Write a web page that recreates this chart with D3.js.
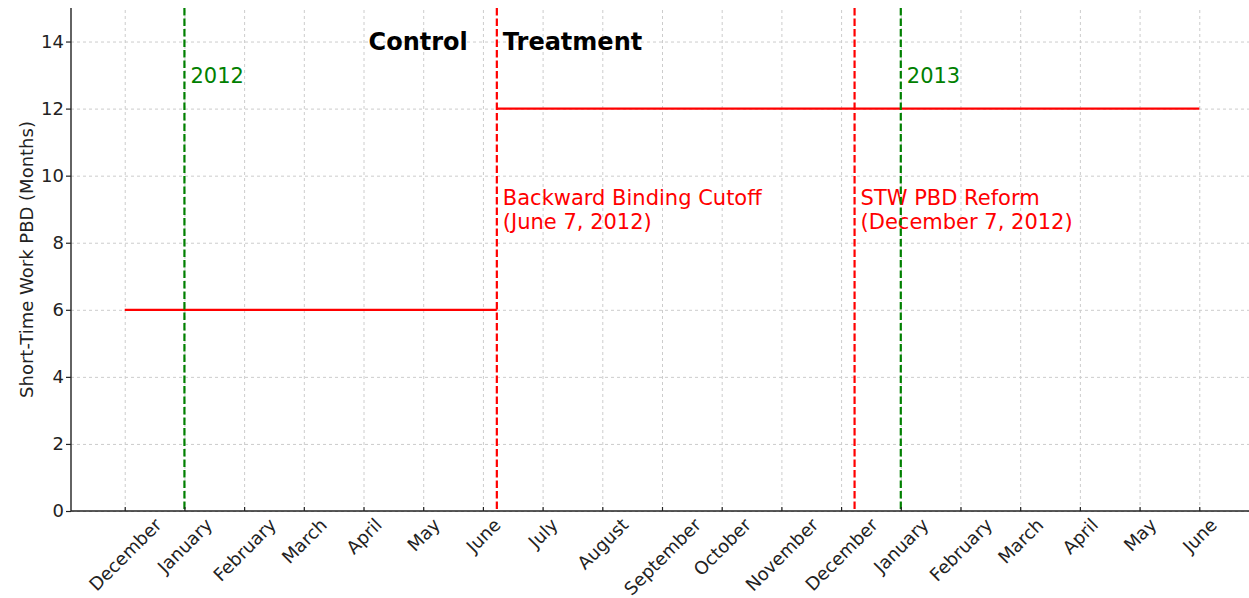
<!DOCTYPE html>
<html>
<head>
<meta charset="utf-8">
<script src="https://cdn.jsdelivr.net/npm/d3@7"></script>
<style>
  html, body { margin: 0; padding: 0; background: #fff; }
  svg { display: block; font-family: "DejaVu Sans", sans-serif; }
</style>
</head>
<body>
<div id="chart"></div>
<script>
// Short-Time Work PBD: control vs treatment periods

const MONTHS = ["December","January","February","March","April","May","June","July","August",
  "September","October","November","December","January","February","March","April","May","June"];
const Y_TICKS = [0, 2, 4, 6, 8, 10, 12, 14];

// PBD steps: [start date, end date, months]
const PBD_STEPS = [
  ["2011-12-01", "2012-06-07", 6],
  ["2012-06-07", "2013-06-01", 12],
];
// policy events (red dashed) and year starts (green dashed)
const EVENTS = [
  { date: "2012-06-07", lines: ["Backward Binding Cutoff", "(June 7, 2012)"] },
  { date: "2012-12-07", lines: ["STW PBD Reform", "(December 7, 2012)"] },
];
const YEARS = [
  { date: "2012-01-01", label: "2012" },
  { date: "2013-01-01", label: "2013" },
];

// months counted from Dec 2011, each month equally wide
function monthPos(s) {
  const [yy, mm, dd] = s.split("-").map(Number);
  const dim = new Date(yy, mm, 0).getDate();
  return (yy - 2011) * 12 + (mm - 12) + (dd === 1 ? 0 : dd / dim);
}

/* ── Layout ── */
const totalW = 1249, totalH = 598;
const margin = { top: 8, right: -4, bottom: 87, left: 71 };
const W = totalW - margin.left - margin.right;
const H = totalH - margin.top - margin.bottom;
const INK = "#222";

const svg = d3.select("#chart").append("svg")
  .attr("width", totalW).attr("height", totalH);
const g = svg.append("g").attr("transform", `translate(${margin.left},${margin.top})`);

/* ── Scales ── */
const x = d3.scaleLinear().domain([-0.9, 18.9]).range([0, W]);
const y = d3.scaleLinear().domain([0, 15]).range([H, 0]);
const monthIdx = d3.range(MONTHS.length);

/* ── Grid ── */
g.append("g").attr("transform", `translate(0,${H})`)
  .call(d3.axisBottom(x).tickValues(monthIdx).tickSize(-H).tickFormat(""))
  .call(ax => { ax.select(".domain").remove(); ax.selectAll("line").attr("stroke", "#cccccc").attr("stroke-dasharray", "3 3"); });
g.append("g")
  .call(d3.axisLeft(y).tickValues(Y_TICKS).tickSize(-W).tickFormat(""))
  .call(ax => { ax.select(".domain").remove(); ax.selectAll("line").attr("stroke", "#cccccc").attr("stroke-dasharray", "3 3"); });

/* ── Annotations ── */
YEARS.forEach(d => {
  g.append("text")
    .attr("x", x(monthPos(d.date)) + 6).attr("y", y(13))
    .attr("dy", "0.36em").attr("font-size", 21).attr("fill", "#008000")
    .text(d.label);
});

g.append("text")
  .attr("x", x(monthPos(EVENTS[0].date)) - 29).attr("y", y(14)).attr("dy", "0.36em")
  .attr("text-anchor", "end").attr("font-size", 24).attr("font-weight", "bold").attr("fill", "#000")
  .text("Control");
g.append("text")
  .attr("x", x(monthPos(EVENTS[0].date)) + 6).attr("y", y(14)).attr("dy", "0.36em")
  .attr("font-size", 24).attr("font-weight", "bold").attr("fill", "#000")
  .text("Treatment");

EVENTS.forEach(d => {
  const t = g.append("text")
    .attr("x", x(monthPos(d.date)) + 6).attr("y", y(9))
    .attr("font-size", 21).attr("fill", "#ff0000");
  d.lines.forEach((l, i) => {
    t.append("tspan").attr("x", x(monthPos(d.date)) + 6)
      .attr("dy", i === 0 ? "-0.22em" : "1.15em").text(l);
  });
});

/* ── Step lines ── */
g.selectAll("line.pbd").data(PBD_STEPS).join("line")
  .attr("class", "pbd")
  .attr("x1", d => x(monthPos(d[0]))).attr("x2", d => x(monthPos(d[1])))
  .attr("y1", d => y(d[2])).attr("y2", d => y(d[2]))
  .attr("stroke", "#ff0000").attr("stroke-width", 2.2);

/* ── Vertical markers ── */
g.selectAll("line.year").data(YEARS).join("line")
  .attr("class", "year")
  .attr("x1", d => x(monthPos(d.date))).attr("x2", d => x(monthPos(d.date)))
  .attr("y1", 0).attr("y2", H)
  .attr("stroke", "#008000").attr("stroke-width", 2.2).attr("stroke-dasharray", "7.5 3");
g.selectAll("line.event").data(EVENTS).join("line")
  .attr("class", "event")
  .attr("x1", d => x(monthPos(d.date))).attr("x2", d => x(monthPos(d.date)))
  .attr("y1", 0).attr("y2", H)
  .attr("stroke", "#ff0000").attr("stroke-width", 2.2).attr("stroke-dasharray", "7.5 3");

/* ── Axes ── */
const yAx = g.append("g")
  .call(d3.axisLeft(y).tickValues(Y_TICKS).tickSize(5).tickPadding(2))
  .call(ax => ax.select(".domain").attr("stroke", INK).attr("stroke-width", 1.4).attr("d", `M0,${H}V0`))
  .call(ax => ax.selectAll("line").attr("stroke", INK).attr("stroke-width", 1.2));
yAx.selectAll("text").attr("font-size", 18).attr("fill", INK).attr("font-family", "DejaVu Sans");

// x ticks point inward
const xAx = g.append("g").attr("transform", `translate(0,${H})`)
  .call(d3.axisBottom(x).tickValues(monthIdx).tickSize(-4).tickFormat(i => MONTHS[i]))
  .call(ax => ax.select(".domain").attr("stroke", INK).attr("stroke-width", 1.4).attr("d", `M0,0H${W}`))
  .call(ax => ax.selectAll("line").attr("stroke", INK).attr("stroke-width", 1.2));

// rotated labels, bounding box centred under the tick
xAx.selectAll(".tick text").each(function () {
  const t = d3.select(this)
    .attr("font-size", 18).attr("fill", INK).attr("font-family", "DejaVu Sans")
    .attr("text-anchor", "middle").attr("dy", "0.35em").attr("y", 0);
  const w = this.getComputedTextLength();
  const h = 13;
  const half = (w + h) / (2 * Math.SQRT2);
  t.attr("transform", `translate(0,${6 + half}) rotate(-45)`);
});

/* ── Axis label ── */
g.append("text")
  .attr("transform", "rotate(-90)").attr("x", -H / 2).attr("y", -38)
  .attr("text-anchor", "middle").attr("font-size", 18).attr("fill", INK)
  .text("Short-Time Work PBD (Months)");
</script>
</body>
</html>
